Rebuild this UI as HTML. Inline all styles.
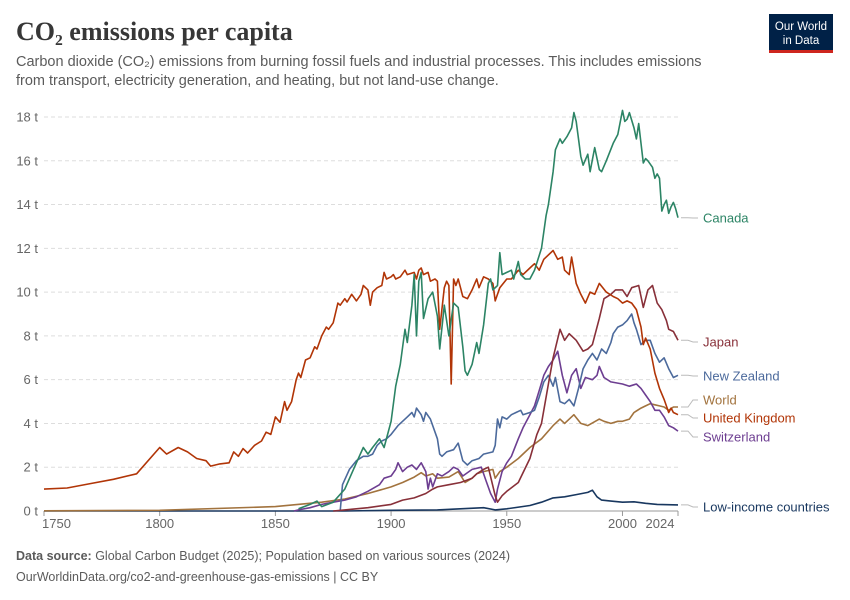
<!DOCTYPE html>
<html><head><meta charset="utf-8"><style>
body{margin:0;background:#fff;font-family:"Liberation Sans",sans-serif;}
#wrap{position:relative;width:850px;height:600px;overflow:hidden;}
svg text{font-family:"Liberation Sans",sans-serif;}
</style></head><body>
<div id="wrap">
<svg id="chart" width="850" height="600">
<text x="16" y="40" font-size="26" font-weight="bold" fill="#373737" style="font-family:'Liberation Serif',serif">CO₂ emissions per capita</text>
<text x="16" y="66" font-size="14.5" fill="#5b5b5b">Carbon dioxide (CO₂) emissions from burning fossil fuels and industrial processes. This includes emissions</text>
<text x="16" y="85" font-size="14.5" fill="#5b5b5b">from transport, electricity generation, and heating, but not land-use change.</text>
<g>
<rect x="769" y="14" width="64" height="37" fill="#002147"/>
<rect x="769" y="50" width="64" height="3" fill="#ce261e"/>
<text x="801" y="30" font-size="11.5" fill="#fff" text-anchor="middle">Our World</text>
<text x="801" y="44" font-size="11.5" fill="#fff" text-anchor="middle">in Data</text>
</g>
<g id="grid"></g><g id="series"></g><g id="labels"></g>
<text x="16" y="560" font-size="12.5" fill="#5b5b5b"><tspan font-weight="bold">Data source:</tspan> Global Carbon Budget (2025); Population based on various sources (2024)</text>
<text x="16" y="581" font-size="12.5" fill="#5b5b5b">OurWorldinData.org/co2-and-greenhouse-gas-emissions | CC BY</text>
</svg></div>
<script>
const yTicks=[0,2,4,6,8,10,12,14,16,18];
const xTicks=[1750,1800,1850,1900,1950,2000,2024];
const seriesNames=["Canada","Japan","New Zealand","World","United Kingdom","Switzerland","Low-income countries"];
const seriesColors=["#2c8465","#883039","#4c6a9c","#a2733e","#b13507","#6d3e91","#18375f"];
const labelY=[218,342,376,400,418,437,507];
const canada=[[1860,0.1],[1865,0.3],[1868,0.45],[1870,0.2],[1875,0.4],[1880,1.0],[1885,2.2],[1888,2.9],[1890,2.6],[1892,2.9],[1895,3.3],[1897,2.9],[1900,4.1],[1902,5.7],[1904,6.7],[1906,8.3],[1907,7.7],[1909,9.4],[1910,10.8],[1911,8.0],[1912,10.5],[1913,10.9],[1914,8.8],[1916,9.7],[1918,10.0],[1920,8.9],[1921,7.4],[1923,9.4],[1925,8.0],[1927,9.5],[1929,9.3],[1931,7.5],[1932,6.4],[1933,6.2],[1935,6.7],[1937,7.7],[1938,7.2],[1940,8.5],[1942,10.4],[1943,10.6],[1944,10.1],[1946,10.3],[1947,11.8],[1948,10.8],[1950,10.9],[1952,11.0],[1953,10.6],[1955,11.4],[1956,10.8],[1958,10.6],[1960,10.6],[1962,11.0],[1965,12.0],[1967,13.5],[1968,14.0],[1970,15.5],[1971,16.5],[1973,17.0],[1974,16.8],[1976,17.1],[1978,17.5],[1979,18.2],[1980,17.8],[1982,16.2],[1983,15.8],[1985,16.3],[1986,15.5],[1988,16.6],[1990,15.6],[1991,15.5],[1993,16.0],[1996,16.8],[1998,17.2],[2000,18.3],[2001,17.8],[2002,17.9],[2003,18.2],[2005,17.5],[2006,17.0],[2007,17.7],[2008,16.8],[2009,15.9],[2010,16.1],[2011,16.0],[2013,15.7],[2014,15.2],[2015,15.4],[2016,15.2],[2017,13.7],[2018,14.0],[2019,14.2],[2020,13.6],[2021,13.9],[2022,14.1],[2023,13.8],[2024,13.4]];
const japan=[[1875,0],[1880,0.05],[1890,0.15],[1900,0.3],[1905,0.5],[1910,0.6],[1915,0.8],[1918,1.0],[1920,1.1],[1925,1.2],[1930,1.3],[1935,1.5],[1937,1.7],[1940,1.9],[1942,2.0],[1945,0.7],[1946,0.4],[1948,0.7],[1950,0.9],[1955,1.3],[1960,2.4],[1963,3.5],[1965,4.0],[1968,5.8],[1970,7.0],[1973,8.3],[1975,7.8],[1977,8.1],[1980,7.8],[1983,7.3],[1985,7.4],[1987,7.6],[1990,8.8],[1992,9.7],[1995,9.9],[1997,10.1],[2000,10.1],[2002,9.8],[2004,10.2],[2007,10.3],[2009,9.3],[2011,10.1],[2013,10.3],[2015,9.5],[2017,9.2],[2019,8.7],[2020,8.3],[2022,8.2],[2024,7.8]];
const newZealand=[[1878,0],[1879,1.2],[1882,1.9],[1885,2.3],[1888,2.5],[1890,2.5],[1892,2.6],[1894,3.0],[1896,3.2],[1898,3.3],[1900,3.5],[1903,3.9],[1905,4.1],[1907,4.3],[1909,4.5],[1910,4.3],[1911,4.7],[1913,4.4],[1914,4.1],[1915,4.5],[1917,4.2],[1920,3.3],[1921,2.6],[1922,2.5],[1924,2.7],[1927,2.8],[1929,3.1],[1931,2.3],[1933,2.1],[1935,2.3],[1938,2.4],[1940,2.6],[1944,2.7],[1945,3.0],[1946,4.2],[1947,3.8],[1948,4.3],[1950,4.2],[1952,4.4],[1954,4.5],[1956,4.6],[1957,4.4],[1960,4.5],[1962,4.6],[1964,5.2],[1966,5.9],[1968,6.2],[1970,5.7],[1971,6.1],[1973,5.0],[1975,4.9],[1977,5.1],[1979,4.8],[1981,5.6],[1983,6.5],[1985,6.9],[1987,7.2],[1989,6.9],[1991,7.4],[1993,7.2],[1995,7.7],[1996,8.1],[1998,8.4],[2000,8.5],[2002,8.7],[2004,9.0],[2005,8.6],[2006,8.3],[2008,7.6],[2010,7.8],[2012,7.8],[2014,7.2],[2016,6.8],[2018,7.0],[2020,6.5],[2022,6.1],[2024,6.2]];
const world=[[1750,0.01],[1800,0.03],[1850,0.2],[1870,0.4],[1880,0.55],[1890,0.8],[1900,1.1],[1905,1.3],[1910,1.55],[1913,1.75],[1915,1.6],[1918,1.7],[1920,1.5],[1925,1.55],[1929,1.8],[1932,1.3],[1935,1.5],[1937,1.7],[1940,1.8],[1944,1.9],[1945,1.5],[1947,1.8],[1950,2.0],[1955,2.4],[1960,2.9],[1965,3.3],[1970,3.9],[1973,4.2],[1975,4.0],[1979,4.4],[1982,4.0],[1985,3.9],[1990,4.2],[1992,4.1],[1995,4.0],[1998,4.1],[2000,4.1],[2003,4.2],[2005,4.5],[2008,4.7],[2010,4.8],[2012,4.9],[2014,4.85],[2016,4.8],[2018,4.75],[2020,4.6],[2022,4.75],[2024,4.75]];
const unitedKingdom=[[1750,1.0],[1760,1.05],[1770,1.25],[1780,1.45],[1790,1.7],[1800,2.9],[1803,2.6],[1808,2.9],[1812,2.7],[1816,2.4],[1820,2.3],[1822,2.05],[1826,2.15],[1830,2.2],[1832,2.7],[1834,2.5],[1836,2.85],[1838,2.65],[1841,3.0],[1844,3.2],[1846,3.6],[1848,3.5],[1850,4.3],[1852,4.05],[1854,5.0],[1855,4.6],[1857,5.0],[1859,6.0],[1860,6.3],[1861,6.1],[1863,6.9],[1865,7.0],[1867,7.5],[1868,7.4],[1870,8.0],[1872,8.4],[1873,8.3],[1875,8.6],[1877,9.5],[1878,9.4],[1880,9.7],[1881,9.55],[1883,9.9],[1885,9.6],[1887,9.9],[1888,10.3],[1890,10.1],[1891,9.4],[1892,10.0],[1894,10.2],[1896,10.3],[1897,10.9],[1898,10.6],[1900,10.7],[1901,10.8],[1902,10.6],[1904,10.7],[1906,11.0],[1907,10.8],[1910,10.9],[1911,10.6],[1912,11.0],[1913,11.1],[1914,10.8],[1916,10.9],[1917,10.5],[1919,10.6],[1920,10.5],[1921,8.3],[1923,10.2],[1924,10.5],[1925,10.3],[1926,5.8],[1927,10.6],[1928,10.3],[1929,10.6],[1930,10.2],[1931,9.8],[1933,9.7],[1935,10.1],[1937,10.6],[1938,10.2],[1940,10.7],[1942,10.6],[1944,10.4],[1945,9.6],[1947,10.2],[1950,10.6],[1952,10.6],[1955,11.0],[1957,10.8],[1960,11.1],[1962,11.3],[1964,11.0],[1966,11.5],[1970,11.9],[1972,11.5],[1974,11.6],[1975,11.0],[1977,10.8],[1978,11.6],[1980,10.4],[1982,9.9],[1984,9.5],[1986,10.0],[1988,9.9],[1990,10.4],[1993,10.0],[1996,9.8],[1998,9.7],[2000,9.5],[2002,9.6],[2004,9.5],[2006,9.2],[2008,8.4],[2009,7.6],[2010,7.9],[2012,7.4],[2014,6.3],[2016,5.6],[2018,5.1],[2020,4.5],[2021,4.7],[2022,4.5],[2024,4.4]];
const switzerland=[[1858,0],[1860,0.05],[1865,0.15],[1870,0.3],[1875,0.4],[1880,0.5],[1885,0.65],[1890,0.9],[1895,1.2],[1897,1.5],[1900,1.6],[1902,1.9],[1903,2.2],[1905,1.8],[1907,2.0],[1909,2.1],[1911,1.9],[1913,2.2],[1915,1.8],[1916,1.0],[1917,1.5],[1918,1.1],[1920,1.7],[1922,1.6],[1925,1.8],[1927,2.0],[1929,1.9],[1931,1.6],[1935,1.9],[1939,2.0],[1941,1.4],[1943,0.8],[1945,0.4],[1946,1.0],[1948,1.8],[1950,2.2],[1952,2.5],[1955,3.3],[1957,3.8],[1960,4.4],[1962,4.8],[1964,5.5],[1966,6.2],[1968,6.6],[1970,6.9],[1972,7.3],[1974,6.2],[1976,5.4],[1978,6.2],[1980,6.5],[1982,5.6],[1984,6.1],[1987,6.0],[1989,6.2],[1990,6.6],[1992,6.1],[1995,5.9],[2000,5.8],[2003,5.7],[2006,5.8],[2008,5.6],[2010,5.3],[2012,5.0],[2014,4.6],[2016,4.6],[2018,4.3],[2020,3.9],[2022,3.8],[2024,3.65]];
const lowIncome=[[1750,0],[1880,0],[1900,0.03],[1920,0.05],[1940,0.15],[1945,0.05],[1950,0.1],[1960,0.25],[1965,0.4],[1970,0.6],[1975,0.65],[1980,0.75],[1985,0.85],[1987,0.95],[1989,0.65],[1991,0.5],[1995,0.45],[2000,0.4],[2005,0.42],[2010,0.35],[2015,0.3],[2024,0.28]];
const allSeries=[canada,japan,newZealand,world,unitedKingdom,switzerland,lowIncome];

const NS="http://www.w3.org/2000/svg";
const X0=44,X1=678,Y0=511,Y1=117;
function xs(yr){return X0+(yr-1750)*(X1-X0)/(2024-1750);}
function ys(v){return Y0-v*(Y0-Y1)/18;}
function mk(tag,attrs,parent){const e=document.createElementNS(NS,tag);for(const k in attrs)e.setAttribute(k,attrs[k]);parent.appendChild(e);return e;}
const grid=document.getElementById('grid');
yTicks.forEach(t=>{
  const l=mk('line',{x1:X0,x2:X1,y1:ys(t),y2:ys(t),stroke:'#ddd','stroke-dasharray':t===0?'none':'4,3'},grid);
  
  
  const tx=mk('text',{x:38,y:ys(t)+4.5,'font-size':13,fill:'#666','text-anchor':'end'},grid);
  tx.textContent=t+' t';
  
  
});
mk('line',{x1:X0,x2:X1,y1:Y0,y2:Y0,stroke:'#999'},grid);
xTicks.forEach((t,i)=>{
  mk('line',{x1:xs(t),x2:xs(t),y1:Y0,y2:Y0+5,stroke:'#999'},grid);
  const anchor=i===0?'start':'middle';
  const tx=mk('text',{x:i===0?xs(t)-2:(i===xTicks.length-1?xs(t)-18:xs(t)),y:Y0+17,'font-size':13,fill:'#666','text-anchor':anchor},grid);
  tx.textContent=t;
  
  
});
const sg=document.getElementById('series'),lg=document.getElementById('labels');
const order=[6,3,5,2,1,4,0];
order.forEach(i=>{
  const d=allSeries[i].map((p,j)=>(j?'L':'M')+xs(p[0]).toFixed(1)+' '+ys(p[1]).toFixed(1)).join(' ');
  const p=mk('path',{d:d,fill:'none',stroke:seriesColors[i],'stroke-width':1.6,'stroke-linejoin':'round'},sg);
  
  
});
seriesNames.forEach((n,i)=>{
  const s=allSeries[i],last=s[s.length-1];
  const ey=ys(last[1]);
  mk('path',{d:`M${X1+3} ${ey} L${X1+10} ${ey} L${X1+15} ${labelY[i]} L${X1+20} ${labelY[i]}`,fill:'none',stroke:'#bbb','stroke-width':1},lg);
  const t=mk('text',{x:703,y:labelY[i]+4.5,'font-size':13,fill:seriesColors[i]},lg);
  t.textContent=n;
  
  
});
</script>
</body></html>
